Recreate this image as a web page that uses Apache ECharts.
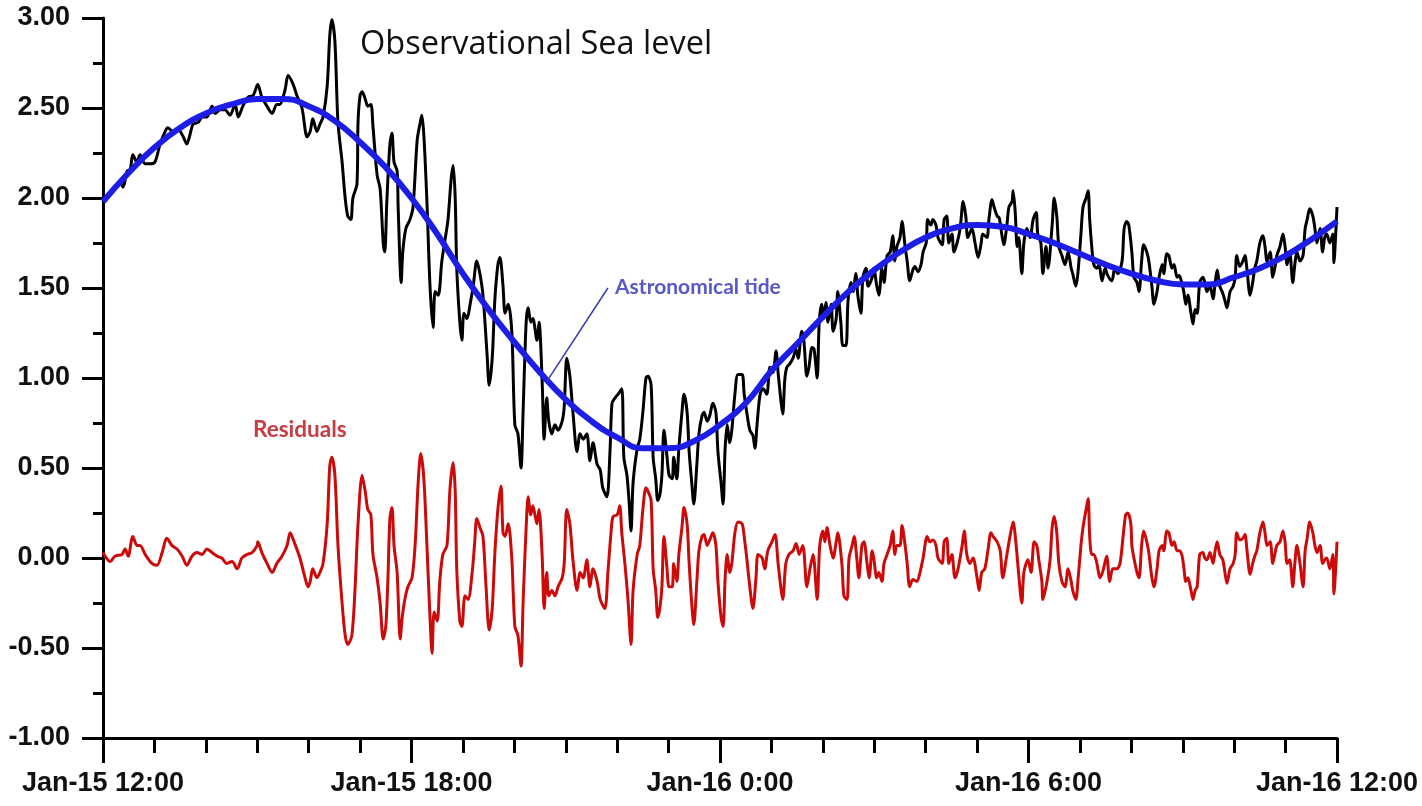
<!DOCTYPE html>
<html>
<head>
    <meta charset="utf-8">
    <script src="https://cdn.jsdelivr.net/npm/echarts@6/dist/echarts.min.js"></script>
    <style>
        body, html {
            margin: 0;
            height: 100%;
            background: #fff;
        }
        #main {
            width: 1422px;
            height: 806px;
        }
    </style>
</head>
<body>
<div id="main"></div>

<script>
    // x values are hours after Jan-15 12:00
    var tickLabels = {0: 'Jan-15 12:00', 6: 'Jan-15 18:00', 12: 'Jan-16 0:00', 18: 'Jan-16 6:00', 24: 'Jan-16 12:00'};

    // observed sea level [hour, m]
    var observed = [[0,1.98],[0.02,1.99],[0.14,2.03],[0.23,2.06],[0.33,2.09],[0.39,2.06],[0.47,2.15],[0.53,2.16],[0.58,2.24],[0.66,2.20],[0.72,2.24],[0.82,2.19],[0.91,2.19],[1.01,2.20],[1.11,2.30],[1.21,2.37],[1.26,2.39],[1.36,2.37],[1.46,2.38],[1.56,2.34],[1.63,2.30],[1.69,2.35],[1.75,2.41],[1.85,2.42],[1.93,2.45],[2.02,2.45],[2.12,2.51],[2.18,2.47],[2.28,2.49],[2.37,2.49],[2.47,2.46],[2.57,2.52],[2.63,2.45],[2.72,2.51],[2.82,2.56],[2.92,2.57],[3.01,2.63],[3.09,2.56],[3.19,2.51],[3.29,2.47],[3.38,2.52],[3.44,2.52],[3.54,2.60],[3.60,2.68],[3.70,2.63],[3.77,2.57],[3.87,2.50],[3.97,2.34],[4.03,2.37],[4.08,2.44],[4.16,2.37],[4.22,2.41],[4.28,2.45],[4.36,2.62],[4.41,2.90],[4.45,2.99],[4.51,2.87],[4.57,2.42],[4.65,2.20],[4.71,2.00],[4.76,1.90],[4.82,1.88],[4.86,2.00],[4.94,2.08],[4.96,2.42],[5.00,2.57],[5.04,2.59],[5.10,2.55],[5.15,2.51],[5.21,2.52],[5.25,2.40],[5.33,2.13],[5.39,2.05],[5.45,1.75],[5.48,1.70],[5.52,1.98],[5.58,2.30],[5.62,2.36],[5.66,2.20],[5.72,2.15],[5.74,1.95],[5.80,1.53],[5.83,1.70],[5.89,1.83],[5.97,1.88],[6.03,1.95],[6.11,2.32],[6.17,2.42],[6.20,2.46],[6.24,2.35],[6.30,1.98],[6.36,1.51],[6.42,1.28],[6.46,1.48],[6.52,1.46],[6.59,1.65],[6.67,1.80],[6.71,1.88],[6.77,2.10],[6.81,2.18],[6.85,2.00],[6.88,1.61],[6.94,1.31],[6.98,1.21],[7.02,1.36],[7.08,1.33],[7.14,1.41],[7.20,1.51],[7.27,1.65],[7.33,1.58],[7.39,1.46],[7.47,1.13],[7.51,0.96],[7.57,1.11],[7.62,1.43],[7.68,1.63],[7.72,1.67],[7.78,1.51],[7.82,1.36],[7.88,1.41],[7.95,1.26],[8.01,0.74],[8.07,0.69],[8.13,0.50],[8.17,0.81],[8.23,1.31],[8.27,1.39],[8.32,1.31],[8.36,1.33],[8.44,1.21],[8.48,1.31],[8.54,0.99],[8.58,0.66],[8.63,0.89],[8.67,0.76],[8.73,0.69],[8.79,0.74],[8.85,0.71],[8.93,0.76],[8.97,0.84],[9.02,1.11],[9.08,1.01],[9.14,0.81],[9.22,0.59],[9.28,0.69],[9.34,0.66],[9.41,0.69],[9.47,0.54],[9.53,0.64],[9.61,0.52],[9.67,0.49],[9.72,0.39],[9.80,0.34],[9.86,0.59],[9.90,0.86],[9.96,0.89],[10.02,0.91],[10.09,0.94],[10.13,0.56],[10.19,0.46],[10.23,0.32],[10.27,0.15],[10.31,0.42],[10.39,0.61],[10.44,0.66],[10.50,0.81],[10.56,1.00],[10.60,1.01],[10.66,0.96],[10.70,0.56],[10.75,0.44],[10.79,0.32],[10.83,0.35],[10.87,0.46],[10.91,0.71],[10.97,0.56],[11.01,0.46],[11.07,0.44],[11.10,0.56],[11.16,0.44],[11.20,0.61],[11.26,0.81],[11.30,0.91],[11.36,0.81],[11.40,0.59],[11.45,0.42],[11.49,0.30],[11.55,0.52],[11.59,0.69],[11.65,0.79],[11.69,0.81],[11.75,0.76],[11.80,0.79],[11.86,0.86],[11.92,0.81],[11.96,0.59],[12.02,0.42],[12.06,0.30],[12.10,0.61],[12.14,0.74],[12.19,0.64],[12.23,0.71],[12.29,0.91],[12.35,1.02],[12.43,1.02],[12.47,0.91],[12.52,0.81],[12.58,0.71],[12.64,0.68],[12.68,0.61],[12.72,0.74],[12.78,0.91],[12.84,0.94],[12.91,0.91],[12.97,1.06],[13.03,1.03],[13.09,1.15],[13.13,1.03],[13.19,0.86],[13.22,0.80],[13.26,0.99],[13.30,1.06],[13.36,1.08],[13.42,1.11],[13.48,1.16],[13.52,1.11],[13.59,1.26],[13.63,1.21],[13.69,1.01],[13.73,1.06],[13.79,1.17],[13.83,1.16],[13.89,1.00],[13.93,1.31],[13.98,1.41],[14.02,1.33],[14.06,1.42],[14.10,1.31],[14.16,1.41],[14.20,1.26],[14.26,1.33],[14.29,1.48],[14.35,1.31],[14.39,1.18],[14.45,1.18],[14.49,1.43],[14.55,1.53],[14.59,1.48],[14.64,1.58],[14.68,1.46],[14.74,1.36],[14.78,1.56],[14.84,1.61],[14.88,1.51],[14.96,1.56],[14.99,1.61],[15.05,1.51],[15.09,1.46],[15.15,1.61],[15.19,1.53],[15.25,1.68],[15.31,1.70],[15.36,1.79],[15.40,1.65],[15.44,1.73],[15.50,1.78],[15.54,1.87],[15.60,1.73],[15.64,1.65],[15.69,1.54],[15.75,1.60],[15.79,1.62],[15.85,1.59],[15.91,1.63],[15.95,1.70],[16.01,1.75],[16.04,1.88],[16.10,1.85],[16.14,1.88],[16.20,1.85],[16.24,1.78],[16.32,1.74],[16.36,1.88],[16.41,1.90],[16.45,1.75],[16.51,1.80],[16.55,1.70],[16.61,1.75],[16.67,1.83],[16.73,1.98],[16.78,1.90],[16.82,1.78],[16.90,1.83],[16.96,1.75],[17.02,1.67],[17.08,1.75],[17.11,1.80],[17.19,1.78],[17.23,1.88],[17.29,1.99],[17.33,1.95],[17.39,1.90],[17.43,1.89],[17.48,1.80],[17.52,1.74],[17.58,1.85],[17.62,1.95],[17.68,1.98],[17.70,2.04],[17.74,1.93],[17.78,1.73],[17.81,1.78],[17.87,1.58],[17.91,1.75],[17.97,1.83],[18.03,1.78],[18.09,1.88],[18.15,1.92],[18.18,1.80],[18.24,1.75],[18.28,1.58],[18.34,1.73],[18.38,1.61],[18.46,1.85],[18.50,2.00],[18.55,1.90],[18.59,1.73],[18.65,1.68],[18.71,1.63],[18.77,1.70],[18.83,1.61],[18.86,1.58],[18.92,1.51],[18.96,1.58],[19.02,1.80],[19.06,1.95],[19.12,2.00],[19.16,2.04],[19.19,1.88],[19.23,1.73],[19.27,1.63],[19.33,1.61],[19.37,1.63],[19.43,1.54],[19.49,1.61],[19.54,1.57],[19.62,1.54],[19.68,1.61],[19.74,1.58],[19.82,1.65],[19.86,1.83],[19.91,1.87],[19.95,1.85],[20.01,1.70],[20.05,1.56],[20.11,1.53],[20.15,1.48],[20.20,1.65],[20.24,1.74],[20.30,1.70],[20.34,1.65],[20.40,1.51],[20.44,1.41],[20.50,1.48],[20.54,1.56],[20.60,1.63],[20.63,1.58],[20.69,1.69],[20.73,1.68],[20.79,1.61],[20.83,1.63],[20.89,1.56],[20.93,1.57],[20.98,1.53],[21.02,1.48],[21.06,1.41],[21.10,1.46],[21.16,1.36],[21.20,1.30],[21.24,1.38],[21.28,1.36],[21.33,1.53],[21.39,1.56],[21.43,1.53],[21.47,1.48],[21.53,1.51],[21.59,1.44],[21.63,1.53],[21.67,1.60],[21.72,1.51],[21.78,1.47],[21.82,1.43],[21.86,1.39],[21.92,1.48],[21.98,1.51],[22.02,1.56],[22.05,1.68],[22.11,1.62],[22.17,1.65],[22.21,1.68],[22.25,1.60],[22.31,1.46],[22.36,1.53],[22.40,1.61],[22.44,1.65],[22.50,1.75],[22.56,1.79],[22.60,1.73],[22.64,1.65],[22.70,1.70],[22.75,1.56],[22.79,1.61],[22.83,1.68],[22.89,1.73],[22.95,1.80],[22.99,1.73],[23.03,1.63],[23.08,1.70],[23.14,1.53],[23.18,1.63],[23.22,1.70],[23.28,1.65],[23.34,1.68],[23.38,1.83],[23.42,1.88],[23.47,1.94],[23.53,1.90],[23.57,1.83],[23.61,1.75],[23.67,1.83],[23.72,1.70],[23.76,1.78],[23.80,1.80],[23.86,1.75],[23.92,1.80],[23.94,1.64],[23.98,1.83],[24.00,1.95]];

    // astronomical tide, half-hourly
    var tideHours = [0,0.5,1,1.5,2,2.5,3,3.5,4,4.5,5,5.5,6,6.5,7,7.5,8,8.5,9,9.5,10,10.5,11,11.5,12,12.5,13,13.5,14,14.5,15,15.5,16,16.5,17,17.5,18,18.5,19,19.5,20,20.5,21,21.5,22,22.5,23,23.5,24];
    var tideLevel = [1.98,2.14,2.28,2.39,2.47,2.52,2.55,2.55,2.51,2.43,2.31,2.17,2.00,1.80,1.58,1.38,1.20,1.03,0.88,0.76,0.67,0.61,0.61,0.65,0.74,0.86,1.04,1.19,1.34,1.48,1.60,1.70,1.78,1.83,1.85,1.84,1.80,1.75,1.69,1.63,1.58,1.54,1.52,1.52,1.56,1.61,1.68,1.77,1.87];

    // residuals [hour, m]
    var residuals = [[0,0.03],[0.14,-0.02],[0.23,0.01],[0.37,0.02],[0.43,0.05],[0.49,0.01],[0.58,0.12],[0.66,0.07],[0.72,0.07],[0.82,0.02],[0.95,-0.03],[1.05,-0.04],[1.15,0.03],[1.24,0.11],[1.34,0.07],[1.44,0.05],[1.54,0.01],[1.63,-0.04],[1.73,0.01],[1.83,0.03],[1.93,0.02],[2.02,0.05],[2.12,0.03],[2.22,0.01],[2.31,0.00],[2.41,-0.03],[2.51,-0.02],[2.61,-0.06],[2.70,0.00],[2.80,0.02],[2.90,0.03],[3.00,0.07],[3.01,0.09],[3.09,0.03],[3.19,-0.03],[3.29,-0.08],[3.38,-0.03],[3.48,0.01],[3.58,0.07],[3.64,0.14],[3.73,0.08],[3.83,0.00],[3.93,-0.11],[3.99,-0.16],[4.03,-0.13],[4.08,-0.06],[4.16,-0.11],[4.22,-0.08],[4.28,-0.03],[4.36,0.19],[4.41,0.51],[4.45,0.56],[4.51,0.46],[4.57,0.07],[4.65,-0.25],[4.71,-0.43],[4.76,-0.48],[4.84,-0.43],[4.90,-0.18],[4.96,0.19],[5.04,0.46],[5.10,0.37],[5.15,0.27],[5.21,0.24],[5.25,0.02],[5.33,-0.11],[5.39,-0.25],[5.45,-0.45],[5.50,-0.38],[5.54,-0.13],[5.58,0.22],[5.62,0.28],[5.66,0.07],[5.72,-0.08],[5.78,-0.45],[5.82,-0.33],[5.87,-0.23],[5.93,-0.16],[6.01,-0.11],[6.07,0.07],[6.13,0.42],[6.18,0.58],[6.24,0.44],[6.30,0.07],[6.36,-0.33],[6.40,-0.53],[6.44,-0.30],[6.50,-0.35],[6.55,-0.13],[6.61,0.02],[6.69,0.07],[6.75,0.39],[6.81,0.53],[6.85,0.37],[6.88,-0.06],[6.94,-0.35],[6.98,-0.38],[7.04,-0.21],[7.10,-0.23],[7.18,-0.08],[7.23,0.09],[7.27,0.22],[7.33,0.17],[7.39,0.12],[7.45,-0.16],[7.51,-0.40],[7.57,-0.28],[7.62,0.02],[7.68,0.27],[7.74,0.40],[7.78,0.14],[7.82,0.12],[7.88,0.19],[7.95,0.00],[8.01,-0.38],[8.07,-0.43],[8.13,-0.60],[8.17,-0.25],[8.23,0.17],[8.27,0.34],[8.32,0.24],[8.36,0.29],[8.44,0.19],[8.48,0.27],[8.54,0.02],[8.58,-0.28],[8.63,-0.08],[8.67,-0.21],[8.73,-0.18],[8.79,-0.21],[8.85,-0.16],[8.93,-0.11],[8.97,-0.03],[9.02,0.27],[9.08,0.19],[9.14,-0.01],[9.22,-0.18],[9.28,-0.08],[9.34,-0.11],[9.41,-0.01],[9.47,-0.16],[9.53,-0.06],[9.61,-0.13],[9.67,-0.23],[9.76,-0.28],[9.82,-0.08],[9.88,0.14],[9.92,0.23],[10.00,0.24],[10.05,0.29],[10.09,0.14],[10.15,-0.03],[10.21,-0.23],[10.27,-0.48],[10.31,-0.18],[10.39,0.02],[10.44,0.07],[10.50,0.27],[10.56,0.39],[10.60,0.37],[10.66,0.32],[10.70,-0.06],[10.75,-0.18],[10.79,-0.33],[10.83,-0.28],[10.87,-0.16],[10.91,0.12],[10.97,-0.06],[11.01,-0.16],[11.07,-0.16],[11.10,-0.03],[11.16,-0.13],[11.20,0.02],[11.26,0.17],[11.30,0.28],[11.36,0.19],[11.40,-0.03],[11.45,-0.25],[11.49,-0.37],[11.55,-0.13],[11.59,0.04],[11.65,0.12],[11.69,0.13],[11.75,0.07],[11.80,0.10],[11.86,0.14],[11.92,0.07],[11.96,-0.13],[12.02,-0.33],[12.06,-0.38],[12.10,-0.11],[12.14,0.02],[12.19,-0.08],[12.23,-0.03],[12.29,0.14],[12.35,0.20],[12.43,0.19],[12.47,0.12],[12.52,0.00],[12.58,-0.16],[12.64,-0.28],[12.70,-0.11],[12.74,0.02],[12.82,0.00],[12.87,-0.06],[12.93,0.04],[13.01,0.09],[13.07,0.13],[13.13,-0.03],[13.19,-0.18],[13.22,-0.23],[13.28,-0.03],[13.34,0.02],[13.42,0.04],[13.48,0.08],[13.54,0.02],[13.61,0.07],[13.69,-0.16],[13.75,-0.06],[13.81,0.02],[13.89,-0.23],[13.94,0.07],[14.00,0.15],[14.04,0.09],[14.08,0.17],[14.14,0.07],[14.20,0.00],[14.26,0.09],[14.29,0.14],[14.37,-0.03],[14.41,-0.21],[14.47,-0.23],[14.51,0.00],[14.57,0.07],[14.61,0.12],[14.66,0.00],[14.70,-0.11],[14.76,0.07],[14.80,0.09],[14.86,-0.03],[14.90,-0.11],[14.96,0.04],[14.99,0.00],[15.05,-0.11],[15.09,-0.08],[15.15,-0.13],[15.19,-0.03],[15.25,0.02],[15.31,0.07],[15.36,0.15],[15.40,0.02],[15.44,0.07],[15.50,0.07],[15.54,0.18],[15.60,0.07],[15.64,-0.03],[15.69,-0.16],[15.75,-0.12],[15.83,-0.13],[15.89,-0.08],[15.95,0.00],[16.03,0.12],[16.08,0.09],[16.14,0.10],[16.20,0.07],[16.24,0.00],[16.32,-0.03],[16.36,0.09],[16.41,0.11],[16.45,-0.03],[16.51,0.02],[16.57,-0.11],[16.63,-0.06],[16.71,0.07],[16.75,0.15],[16.80,0.02],[16.86,-0.03],[16.92,0.00],[17.00,-0.11],[17.04,-0.18],[17.09,-0.08],[17.15,-0.06],[17.21,0.04],[17.27,0.14],[17.31,0.12],[17.39,0.09],[17.45,0.04],[17.50,-0.11],[17.58,0.02],[17.64,0.12],[17.70,0.20],[17.76,0.07],[17.80,-0.06],[17.87,-0.25],[17.91,-0.08],[17.99,-0.01],[18.05,-0.08],[18.11,0.09],[18.16,0.07],[18.20,-0.01],[18.26,-0.13],[18.28,-0.23],[18.36,-0.13],[18.42,-0.01],[18.46,0.17],[18.50,0.23],[18.55,0.14],[18.59,-0.03],[18.65,-0.13],[18.71,-0.16],[18.77,-0.06],[18.83,-0.13],[18.86,-0.18],[18.92,-0.23],[18.96,-0.13],[19.02,0.07],[19.06,0.17],[19.12,0.27],[19.16,0.33],[19.19,0.12],[19.23,0.02],[19.27,0.02],[19.33,-0.03],[19.39,-0.11],[19.45,-0.07],[19.52,0.01],[19.58,-0.13],[19.64,-0.06],[19.72,-0.06],[19.78,-0.03],[19.84,0.12],[19.89,0.24],[19.93,0.25],[19.99,0.19],[20.01,0.07],[20.05,0.00],[20.11,-0.08],[20.15,-0.11],[20.20,0.07],[20.24,0.15],[20.30,0.09],[20.34,0.03],[20.40,-0.11],[20.44,-0.16],[20.50,-0.06],[20.54,0.04],[20.60,0.07],[20.63,0.04],[20.69,0.15],[20.73,0.14],[20.79,0.07],[20.83,0.09],[20.89,0.04],[20.93,0.04],[20.98,0.02],[21.02,-0.05],[21.06,-0.13],[21.10,-0.11],[21.16,-0.18],[21.20,-0.23],[21.24,-0.18],[21.28,-0.16],[21.33,0.02],[21.39,0.03],[21.43,0.00],[21.47,-0.01],[21.53,0.03],[21.59,-0.03],[21.63,0.04],[21.67,0.09],[21.72,0.02],[21.78,-0.01],[21.82,-0.08],[21.86,-0.14],[21.92,-0.06],[21.98,-0.03],[22.02,0.02],[22.05,0.14],[22.11,0.10],[22.17,0.11],[22.21,0.13],[22.25,0.04],[22.31,-0.09],[22.36,-0.03],[22.40,0.01],[22.44,0.04],[22.50,0.14],[22.56,0.20],[22.60,0.14],[22.64,0.07],[22.70,0.09],[22.75,-0.03],[22.79,0.02],[22.83,0.07],[22.89,0.09],[22.95,0.15],[22.99,0.09],[23.03,-0.03],[23.08,-0.01],[23.14,-0.16],[23.18,-0.03],[23.22,0.07],[23.28,-0.03],[23.34,-0.16],[23.38,0.04],[23.42,0.11],[23.47,0.20],[23.53,0.14],[23.57,0.07],[23.61,0.03],[23.67,0.07],[23.72,-0.03],[23.76,-0.01],[23.80,0.00],[23.86,-0.06],[23.92,0.02],[23.94,-0.20],[23.98,-0.03],[24.00,0.09]];

    var tide = tideHours.map(function (h, i) { return [h, tideLevel[i]]; });

    var axisFont = {fontFamily: 'Liberation Sans', fontWeight: 'bold', fontSize: 27, color: '#111'};

    var myChart = echarts.init(document.getElementById('main'), null, {renderer: 'canvas'});
    var option = {
        animation: false,
        backgroundColor: '#fff',
        grid: {left: 103, right: 85, top: 18, bottom: 68, containLabel: false},
        xAxis: {
            type: 'value',
            min: 0,
            max: 24,
            interval: 6,
            axisLine: {show: true, onZero: false, lineStyle: {color: '#000', width: 3}},
            axisTick: {show: true, inside: false, length: 25, lineStyle: {color: '#000', width: 3}},
            minorTick: {show: true, splitNumber: 6, length: 15, lineStyle: {color: '#000', width: 3}},
            splitLine: {show: false},
            axisLabel: Object.assign({
                margin: 32,
                formatter: function (v) { return tickLabels[v] || ''; }
            }, axisFont)
        },
        yAxis: {
            type: 'value',
            min: -1,
            max: 3,
            interval: 0.5,
            axisLine: {show: true, onZero: false, lineStyle: {color: '#000', width: 3}},
            axisTick: {show: true, inside: false, length: 21, lineStyle: {color: '#000', width: 3}},
            minorTick: {show: true, splitNumber: 2, length: 10, lineStyle: {color: '#000', width: 3}},
            splitLine: {show: false},
            axisLabel: Object.assign({
                margin: 33,
                formatter: function (v) { return v.toFixed(2); }
            }, axisFont)
        },
        series: [
            {
                name: 'Residuals',
                type: 'line',
                data: residuals,
                showSymbol: false,
                smooth: 0.3,
                lineStyle: {color: '#cc0a0a', width: 3},
                z: 2
            },
            {
                name: 'Observational Sea level',
                type: 'line',
                data: observed,
                showSymbol: false,
                smooth: 0.3,
                lineStyle: {color: '#000', width: 3},
                z: 3
            },
            {
                name: 'Astronomical tide',
                type: 'line',
                data: tide,
                showSymbol: false,
                smooth: true,
                lineStyle: {color: '#1d1de8', width: 6},
                z: 4,
                markLine: {
                    silent: true,
                    symbol: 'none',
                    label: {show: false},
                    lineStyle: {color: '#3a3ab4', width: 1.5, type: 'solid'},
                    data: [[{coord: [9.82, 1.50]}, {coord: [8.63, 0.98]}]]
                }
            }
        ],
        graphic: [
            {
                type: 'text', x: 360, y: 45,
                style: {text: 'Observational Sea level', fill: '#111', font: '32.5px "Open Sans"', verticalAlign: 'middle'}
            },
            {
                type: 'text', x: 615, y: 287,
                style: {text: 'Astronomical tide', fill: '#5858c8', font: 'bold 21px Lato', verticalAlign: 'middle'}
            },
            {
                type: 'text', x: 253, y: 430,
                style: {text: 'Residuals', fill: '#c83c44', font: 'bold 22.5px Lato', verticalAlign: 'middle'}
            }
        ]
    };
    myChart.setOption(option);
    window.onresize = myChart.resize;
</script>
</body>
</html>
